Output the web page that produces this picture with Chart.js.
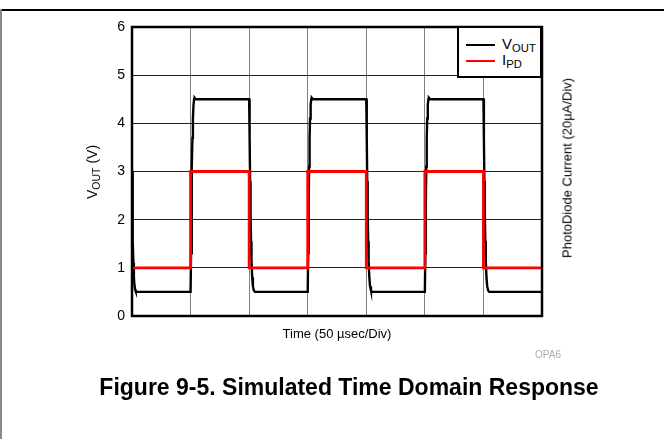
<!DOCTYPE html>
<html>
<head>
<meta charset="utf-8">
<script src="https://cdn.jsdelivr.net/npm/chart.js@4"></script>
<style>
  body { margin: 0; background: #fff; font-family: "Liberation Sans", Arial, sans-serif; }
  #wrap { position: relative; width: 664px; height: 439px; overflow: hidden; }
  #chart { position: absolute; left: 0; top: 0; }
  .frameTop { position: absolute; left: 0; top: 9px; width: 664px; border-top: 2px solid #000; }
  .frameLeft { position: absolute; left: 0; top: 9px; height: 430px; border-left: 2px solid #888; }
  .lbl { position: absolute; white-space: nowrap; color: #000; }
  .sub { font-size: 0.75em; position: relative; top: 0.25em; }
  #legend { position: absolute; left: 457px; top: 26px; width: 85px; height: 52px;
            box-sizing: border-box; border: 2px solid #000; background: #fff; }
  .entry { position: absolute; left: 7px; height: 16px; font-size: 15px; line-height: 16px; white-space: nowrap; }
  .swatch { display: inline-block; width: 29px; height: 0; vertical-align: middle; margin-right: 7px; }
</style>
</head>
<body>
<div id="wrap">
  <canvas id="chart" width="664" height="439"></canvas>
  <div class="frameTop"></div>
  <div class="frameLeft"></div>
  <div id="legend"></div>
  <div class="lbl" id="yTitle" style="left:92px;top:172px;font-size:14px;transform:translate(-50%,-50%) rotate(-90deg);">V<span class="sub">OUT</span> (V)</div>
  <div class="lbl" style="left:567px;top:168px;font-size:13px;transform:translate(-50%,-50%) rotate(-90deg);">PhotoDiode Current (20&micro;A/Div)</div>
  <div class="lbl" style="left:337px;top:333px;font-size:13px;transform:translate(-50%,-50%);">Time (50 &micro;sec/Div)</div>
  <div class="lbl" style="left:535px;top:354px;font-size:10px;color:#aaa;transform:translateY(-50%);">OPA6</div>
  <div class="lbl" style="left:349px;top:387px;font-size:23px;font-weight:bold;transform:translate(-50%,-50%);">Figure 9-5. Simulated Time Domain Response</div>
</div>
<script>
// -------------------------------
// DATA (time in usec)
// -------------------------------
const voutTime = [
  0, 0.4, 0.8, 1.2, 1.6, 2.0, 2.6, 3.2, 4.0,
  50, 50.4, 50.8, 51.2, 51.6, 52.0, 52.5, 53.0, 53.5, 54.5,
  100, 100.4, 100.8, 101.2, 101.6, 102.0, 102.6, 103.2, 104.0, 105.0,
  150, 150.4, 150.8, 151.2, 151.6, 152.0, 152.5, 153.0, 153.5, 154.5,
  200, 200.4, 200.8, 201.2, 201.6, 202.0, 202.6, 203.2, 204.0, 205.0,
  250, 250.4, 250.8, 251.2, 251.6, 252.0, 252.5, 253.0, 253.5, 254.5,
  300, 300.4, 300.8, 301.2, 301.6, 302.0, 302.6, 303.2, 304.0, 305.0,
  350
];
const voutValue = [
  3.0, 2.2, 1.55, 1.1, 0.82, 0.66, 0.55, 0.51, 0.5,
  0.5, 1.3, 2.3, 3.1, 3.7, 4.1, 4.38, 4.5, 4.53, 4.5,
  4.5, 3.7, 2.8, 2.1, 1.55, 1.15, 0.8, 0.62, 0.53, 0.5,
  0.5, 1.3, 2.3, 3.1, 3.7, 4.1, 4.38, 4.5, 4.53, 4.5,
  4.5, 3.7, 2.8, 2.1, 1.55, 1.15, 0.8, 0.62, 0.53, 0.5,
  0.5, 1.3, 2.3, 3.1, 3.7, 4.1, 4.38, 4.5, 4.53, 4.5,
  4.5, 3.7, 2.8, 2.1, 1.55, 1.15, 0.8, 0.62, 0.53, 0.5,
  0.5
];
const ipdTime = [0, 50, 50, 100, 100, 150, 150, 200, 200, 250, 250, 300, 300, 350];
const ipdValue = [1, 1, 3, 3, 1, 1, 3, 3, 1, 1, 3, 3, 1, 1];

const seriesNames = [["V", "OUT"], ["I", "PD"]];
const seriesColors = ["#000000", "#ff0000"];

// -------------------------------
// CHART
// -------------------------------
const frame = {
  id: "frame",
  afterDatasetsDraw(chart) {
    const a = chart.chartArea;
    const ctx = chart.ctx;
    ctx.save();
    ctx.strokeStyle = "#000";
    ctx.lineWidth = 2.5;
    ctx.strokeRect(a.left, a.top, a.right - a.left, a.bottom - a.top);
    ctx.restore();
  }
};

const toPoints = (xs, ys) => xs.map((x, i) => ({ x: x, y: ys[i] }));

const chart = new Chart(document.getElementById("chart"), {
  type: "line",
  data: {
    datasets: [
      {
        label: "VOUT",
        data: toPoints(voutTime, voutValue),
        borderColor: seriesColors[0],
        borderWidth: 2.4,
        pointRadius: 0,
        order: 1,
      },
      {
        label: "IPD",
        data: toPoints(ipdTime, ipdValue),
        borderColor: seriesColors[1],
        borderWidth: 2.8,
        pointRadius: 0,
        order: 0,
      },
    ],
  },
  options: {
    responsive: false,
    animation: false,
    layout: { padding: { top: 27 } },
    plugins: { legend: { display: false }, tooltip: { enabled: false } },
    scales: {
      x: {
        type: "linear",
        min: 0,
        max: 350,
        ticks: { display: false, stepSize: 50 },
        grid: { color: "#808080", lineWidth: 1, drawTicks: false },
        border: { display: false },
        afterFit: (s) => { s.height = 123; },
      },
      y: {
        min: 0,
        max: 6,
        ticks: {
          stepSize: 1,
          padding: 7,
          color: "#000",
          font: { family: "'Liberation Sans', Arial, sans-serif", size: 14 },
        },
        grid: { color: "#222", lineWidth: 1, drawTicks: false },
        border: { display: false },
        afterFit: (s) => { s.width = 132; },
      },
      y2: {
        position: "right",
        min: 0,
        max: 6,
        ticks: { display: false },
        grid: { display: false, drawTicks: false },
        border: { display: false },
        afterFit: (s) => { s.width = 122; },
      },
    },
  },
  plugins: [frame],
});

// -------------------------------
// LEGEND (html, for the subscripts)
// -------------------------------
const legend = document.getElementById("legend");
seriesNames.forEach((name, i) => {
  const row = document.createElement("div");
  row.className = "entry";
  row.style.top = (8 + i * 16) + "px";
  row.innerHTML =
    `<span class="swatch" style="border-top:2px solid ${seriesColors[i]}"></span>` +
    `${name[0]}<span class="sub">${name[1]}</span>`;
  legend.appendChild(row);
});
</script>
</body>
</html>
